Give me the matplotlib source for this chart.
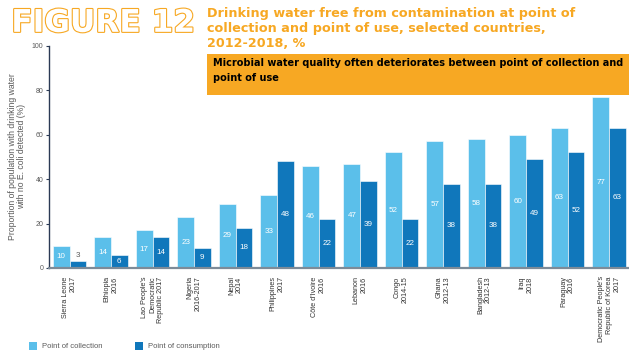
# -*- coding: utf-8 -*-
import numpy as np
import matplotlib
matplotlib.use('Agg')
import matplotlib.pyplot as plt
import matplotlib.patheffects as pe
from matplotlib.patches import Rectangle

plt.rcParams['font.family'] = ['Liberation Sans', 'DejaVu Sans']

## 数据
countries = ["Sierra Leone\n2017", "Ethiopia\n2016", "Lao People's\nDemocratic\nRepublic 2017",
             "Nigeria\n2016-2017", "Nepal\n2014", "Philippines\n2017", "Côte d'Ivoire\n2016",
             "Lebanon\n2016", "Congo\n2014-15", "Ghana\n2012-13", "Bangladesh\n2012-13",
             "Iraq\n2018", "Paraguay\n2016", "Democratic People's\nRepublic of Korea\n2017"]
collection = [10, 14, 17, 23, 29, 33, 46, 47, 52, 57, 58, 60, 63, 77]
consumption = [3, 6, 14, 9, 18, 48, 22, 39, 22, 38, 38, 49, 52, 63]
yticks = [0, 20, 40, 60, 80, 100]

c_light = '#5bbfea'
c_dark = '#1077bb'
orange = '#f7a823'
grey = '#5a5a5a'

fig = plt.figure(figsize=(6.29, 3.53), dpi=100)
ax = fig.add_axes([0.078, 0.241, 0.922, 0.629])

x = np.arange(len(countries))
w = 0.4
b1 = ax.bar(x - w/2, collection, w, color=c_light, edgecolor='white', linewidth=0.4, zorder=2)
b2 = ax.bar(x + w/2, consumption, w, color=c_dark, edgecolor='white', linewidth=0.4, zorder=2)

## 数值标签
for bars, vals in [(b1, collection), (b2, consumption)]:
    for r, v in zip(bars, vals):
        cx = r.get_x() + r.get_width()/2
        if v < 5:
            ax.text(cx, v + 2.5, str(v), ha='center', va='center', fontsize=5.8, color=grey)
        else:
            ax.text(cx, v/2, str(v), ha='center', va='center', fontsize=5.8, color='white')

ax.set_xlim(-0.494, 13.48)
ax.set_ylim(0, 100)
ax.set_yticks(yticks)
ax.tick_params(axis='y', labelsize=5, colors='#2b3a55', length=2, width=0.8, pad=2, labelcolor=grey)
ax.set_xticks(x)
ax.set_xticklabels(countries, rotation=90, fontsize=5.2, color='#333333', ha='center', va='top',
                   multialignment='right')
ax.tick_params(axis='x', length=0, pad=6)
for s in ['top', 'right']:
    ax.spines[s].set_visible(False)
ax.spines['left'].set_color('#2b3a55')
ax.spines['left'].set_linewidth(1.0)
ax.spines['bottom'].set_color('#7d8b98')
ax.spines['bottom'].set_linewidth(1.6)
ax.set_ylabel('Proportion of population with drinking water\nwith no E. coli detected (%)',
              fontsize=6.2, color=grey, labelpad=4, linespacing=1.1)

## 标题
fig.text(0.018, 0.975, 'FIGURE 12', fontsize=22.5, fontweight='bold', color='white', va='top',
         family='DejaVu Sans',
         path_effects=[pe.withStroke(linewidth=1.6, foreground=orange)])
fig.text(0.329, 0.98, 'Drinking water free from contamination at point of\n'
         'collection and point of use, selected countries,\n2012-2018, %',
         fontsize=9.2, fontweight='bold', color=orange, va='top', linespacing=1.22,
         family='DejaVu Sans')

fig.patches.append(Rectangle((0.329, 0.731), 0.671, 0.116, transform=fig.transFigure,
                             facecolor=orange, edgecolor='none', zorder=5))
fig.text(0.339, 0.835, 'Microbial water quality often deteriorates between point of collection and\npoint of use',
         fontsize=7.0, fontweight='bold', color='black', va='top', linespacing=1.6, zorder=6,
         family='DejaVu Sans')

## 图例
fig.patches.append(Rectangle((0.046, 0.008), 0.013, 0.023, transform=fig.transFigure,
                             facecolor=c_light, edgecolor='none'))
fig.text(0.067, 0.018, 'Point of collection', fontsize=5.5, color=grey, va='center')
fig.patches.append(Rectangle((0.215, 0.008), 0.013, 0.023, transform=fig.transFigure,
                             facecolor=c_dark, edgecolor='none'))
fig.text(0.236, 0.018, 'Point of consumption', fontsize=5.5, color=grey, va='center')

plt.savefig('out.png', dpi=100)
